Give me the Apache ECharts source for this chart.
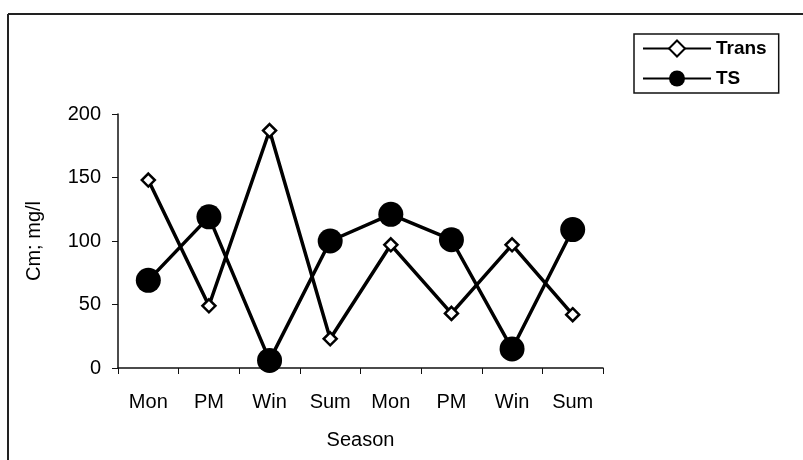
<!DOCTYPE html>
<html>
<head>
<meta charset="utf-8">
<script src="https://cdn.jsdelivr.net/npm/echarts@6/dist/echarts.min.js"></script>
<style>
  html, body { margin: 0; padding: 0; background: #fff; }
  #chart { width: 803px; height: 460px; }
</style>
</head>
<body>
<div id="chart"></div>
<script>
  // values
  var seasons = ['Mon', 'PM', 'Win', 'Sum', 'Mon', 'PM', 'Win', 'Sum']
  var transData = [148, 49, 187, 23, 97, 43, 97, 42]
  var tsData = [69, 119, 6, 100, 121, 101, 15, 109]
  var yTicks = [0, 50, 100, 150, 200]

  var font = 'Liberation Sans, Arial, sans-serif'
  var txt = { fontFamily: font, fontSize: 20, color: '#000' }
  var myChart = echarts.init(document.getElementById('chart'))
  myChart.setOption({
    animation: false,
    backgroundColor: '#fff',
    textStyle: { fontFamily: font },
    graphic: [
      { type: 'line', shape: { x1: 8, y1: 14, x2: 8, y2: 460 }, style: { stroke: '#222', lineWidth: 2 } },
      { type: 'line', shape: { x1: 8, y1: 14, x2: 803, y2: 14 }, style: { stroke: '#222', lineWidth: 2 } }
    ],
    legend: {
      orient: 'vertical',
      left: 634,
      top: 34,
      padding: [5, 12, 5, 8],
      itemGap: 11,
      itemWidth: 68,
      itemHeight: 20,
      borderColor: '#111',
      borderWidth: 1.5,
      textStyle: Object.assign({}, txt, { fontSize: 19, fontWeight: 'bold', padding: [0, 0, 0, 0] }),
      data: ['Trans', 'TS']
    },
    grid: { left: 118, right: 200, top: 114, bottom: 92 },
    xAxis: {
      type: 'category',
      data: seasons,
      name: 'Season',
      nameLocation: 'middle',
      nameGap: 62,
      nameTextStyle: txt,
      axisLine: { lineStyle: { color: '#111', width: 1.5 } },
      axisTick: { show: true, length: 6, lineStyle: { color: '#111' } },
      axisLabel: Object.assign({}, txt, { margin: 24 })
    },
    yAxis: {
      type: 'value',
      min: yTicks[0],
      max: yTicks[yTicks.length - 1],
      interval: 50,
      name: 'Cm; mg/l',
      nameLocation: 'middle',
      nameGap: 74,
      nameTextStyle: txt,
      splitLine: { show: false },
      axisLine: { show: true, lineStyle: { color: '#111', width: 1.5 } },
      axisTick: { show: true, length: 6, lineStyle: { color: '#111' } },
      axisLabel: Object.assign({}, txt, { margin: 17 })
    },
    series: [
      {
        name: 'Trans',
        type: 'line',
        data: transData,
        symbol: 'diamond',
        symbolSize: 13,
        z: 3,
        lineStyle: { color: '#000', width: 3.5 },
        itemStyle: { color: '#fff', borderColor: '#000', borderWidth: 2.5 }
      },
      {
        name: 'TS',
        type: 'line',
        data: tsData,
        symbol: 'circle',
        symbolSize: 25,
        z: 2,
        lineStyle: { color: '#000', width: 3.5 },
        itemStyle: { color: '#000', borderColor: '#000', borderWidth: 0 }
      }
    ]
  })
</script>
</body>
</html>
